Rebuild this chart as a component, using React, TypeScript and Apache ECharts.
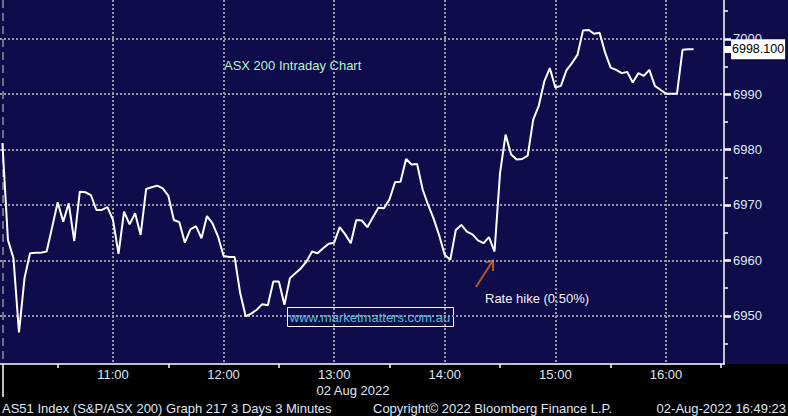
import React, { useEffect, useRef } from "react";
import * as echarts from "echarts";

// ---- data ----
const times: string[] = [
  "10:00","10:03","10:06","10:09","10:12","10:15","10:18","10:21","10:24","10:27",
  "10:30","10:33","10:36","10:39","10:42","10:45","10:48","10:51","10:54","10:57",
  "11:00","11:03","11:06","11:09","11:12","11:15","11:18","11:21","11:24","11:27",
  "11:30","11:33","11:36","11:39","11:42","11:45","11:48","11:51","11:54","11:57",
  "12:00","12:03","12:06","12:09","12:12","12:15","12:18","12:21","12:24","12:27",
  "12:30","12:33","12:36","12:39","12:42","12:45","12:48","12:51","12:54","12:57",
  "13:00","13:03","13:06","13:09","13:12","13:15","13:18","13:21","13:24","13:27",
  "13:30","13:33","13:36","13:39","13:42","13:45","13:48","13:51","13:54","13:57",
  "14:00","14:03","14:06","14:09","14:12","14:15","14:18","14:21","14:24","14:27",
  "14:30","14:33","14:36","14:39","14:42","14:45","14:48","14:51","14:54","14:57",
  "15:00","15:03","15:06","15:09","15:12","15:15","15:18","15:21","15:24","15:27",
  "15:30","15:33","15:36","15:39","15:42","15:45","15:48","15:51","15:54","15:57",
  "16:00","16:03","16:06","16:09","16:12","16:15",
];
const prices: number[] = [
  6981.2, 6963.7, 6960.4, 6947.0, 6956.8, 6961.3, 6961.4, 6961.4, 6961.6, 6966.0,
  6970.5, 6967.0, 6970.3, 6963.5, 6972.4, 6972.3, 6971.8, 6969.1, 6969.1, 6969.6,
  6967.3, 6961.2, 6968.8, 6966.5, 6968.5, 6964.6, 6972.9, 6973.2, 6973.5, 6973.0,
  6971.7, 6967.3, 6966.9, 6963.2, 6965.6, 6966.2, 6964.0, 6968.0, 6966.7, 6964.3,
  6960.8, 6960.6, 6960.6, 6954.1, 6949.9, 6950.4, 6951.1, 6952.1, 6951.9, 6956.2,
  6956.2, 6952.0, 6956.8, 6957.7, 6958.6, 6959.8, 6961.6, 6961.3, 6962.2, 6963.0,
  6963.2, 6966.0, 6964.7, 6963.1, 6967.3, 6967.2, 6966.0, 6967.8, 6969.5, 6969.4,
  6971.0, 6974.1, 6974.2, 6978.3, 6977.3, 6977.4, 6972.8, 6970.0, 6967.5, 6964.5,
  6961.0, 6960.1, 6965.5, 6966.4, 6965.2, 6964.7, 6963.6, 6963.1, 6964.2, 6961.6,
  6975.8, 6982.7, 6979.1, 6978.2, 6978.3, 6978.9, 6985.4, 6987.9, 6992.3, 6994.7,
  6991.2, 6991.5, 6994.3, 6995.6, 6997.1, 7001.5, 7001.6, 7000.9, 7001.1, 6997.5,
  6994.8, 6994.4, 6993.8, 6994.0, 6992.1, 6993.8, 6993.3, 6994.4, 6991.5, 6990.8,
  6990.1, 6990.1, 6990.1, 6998.0, 6998.1, 6998.1,
];
const hourTicks: string[] = ["11:00", "12:00", "13:00", "14:00", "15:00", "16:00"];
const halfHourTicks: string[] = ["10:30", "11:30", "12:30", "13:30", "14:30", "15:30", "16:30"];
const sessionStart = "10:00";
const priceTicks: number[] = [6950, 6960, 6970, 6980, 6990, 7000];
const priceMinorTicks: number[] = [6945, 6955, 6965, 6975, 6985, 6995, 7005];
const lastPrice = 6998.1;
const titleText = "ASX 200 Intraday Chart";
const dateText = "02 Aug 2022";
const annotationText = "Rate hike (0.50%)";
const watermarkText = "www.marketmatters.com.au";
const footerLeft = "AS51 Index (S&P/ASX 200) Graph 217 3 Days 3 Minutes";
const footerMid = "Copyright\u00A9 2022 Bloomberg Finance L.P.";
const footerRight = "02-Aug-2022 16:49:23";

const toMin = (s: string) => {
  const [h, m] = s.split(":").map(Number);
  return h * 60 + m - 600;
};
const fmtMin = (v: number) => {
  const t = Math.round(v) + 600;
  const h = Math.floor(t / 60);
  const m = t % 60;
  return `${h}:${m < 10 ? "0" : ""}${m}`;
};

const NAVY = "#0e0c4a";
const LABEL = "#dfe7f6";
const GRID = "#9797a6";
const FONT = '"Liberation Sans", Arial, sans-serif';

export default function App() {
  const ref = useRef<HTMLDivElement>(null);
  useEffect(() => {
    if (!ref.current) return;
    const chart = echarts.init(ref.current, undefined, { renderer: "svg" });
    const xMin = -1.3;
    const xMax = 391.5;
    const yMin = 6941.3;
    const yMax = 7007;
    const xBase = {
      type: "value", min: xMin, max: xMax, position: "bottom",
    };
    const yBase = {
      type: "value", min: yMin, max: yMax, position: "right",
    };
    const option: any = {
      animation: false,
      backgroundColor: "#000000",
      textStyle: { fontFamily: FONT },
      grid: {
        left: 0, right: 64, top: 0, bottom: 52,
        show: true, backgroundColor: NAVY, borderWidth: 0,
        containLabel: false, outerBoundsMode: "none",
      },
      xAxis: [
        {
          ...xBase,
          axisLine: { show: false, onZero: false },
          axisTick: { show: false, customValues: hourTicks.map(toMin) },
          axisLabel: {
            customValues: hourTicks.map(toMin),
            formatter: (v: number) => fmtMin(v),
            color: LABEL, fontSize: 13, fontFamily: FONT, margin: 4,
          },
          splitLine: { show: true, lineStyle: { color: GRID, width: 2, type: [2, 2] } },
        },
        {
          ...xBase,
          axisLine: { show: true, onZero: false, lineStyle: { color: "#ffffff", width: 1.5 } },
          axisTick: {
            show: true, customValues: halfHourTicks.map(toMin), length: 4,
            lineStyle: { color: "#ffffff", width: 1.5 },
          },
          axisLabel: { show: false },
          splitLine: { show: false },
        },
        {
          ...xBase,
          axisLine: { show: false, onZero: false },
          axisTick: {
            show: true, customValues: [toMin(sessionStart)], length: 33,
            lineStyle: { color: "#ffffff", width: 1.5 },
          },
          axisLabel: { show: false },
          splitLine: { show: true, lineStyle: { color: "#8e8e98", width: 1.5, type: [8, 5] } },
        },
      ],
      yAxis: [
        {
          ...yBase,
          axisLine: { show: true, onZero: false, lineStyle: { color: "#ffffff", width: 1.5 } },
          axisTick: {
            show: true, customValues: priceTicks, length: 7,
            lineStyle: { color: "#ffffff", width: 2.5 },
          },
          axisLabel: {
            customValues: priceTicks, formatter: (v: number) => String(v),
            color: LABEL, fontSize: 13, fontFamily: FONT, margin: 9,
          },
          splitLine: { show: true, lineStyle: { color: GRID, width: 2, type: [2, 2] } },
        },
        {
          ...yBase,
          axisLine: { show: false, onZero: false },
          axisTick: {
            show: true, customValues: priceMinorTicks, length: 4,
            lineStyle: { color: "#ffffff", width: 1.5 },
          },
          axisLabel: { show: false },
          splitLine: { show: false },
        },
        {
          ...yBase,
          axisLine: { show: false, onZero: false },
          axisTick: {
            show: true, customValues: [lastPrice], length: 8,
            lineStyle: { color: "#ffffff", width: 7 },
          },
          axisLabel: {
            customValues: [lastPrice], formatter: (v: number) => v.toFixed(3),
            color: "#000000", backgroundColor: "#ffffff", padding: [4, 1, 3, 1],
            fontSize: 12.5, fontFamily: FONT, margin: 7,
          },
          splitLine: { show: false },
        },
      ],
      series: [
        {
          type: "line",
          xAxisIndex: 0,
          yAxisIndex: 0,
          data: times.map((t, i) => [toMin(t), prices[i]]),
          symbol: "none",
          lineStyle: { color: "#ffffff", width: 2 },
          z: 5,
        },
      ],
      graphic: [
        {
          type: "rect", z: -1, silent: true,
          shape: { x: 724, y: 0, width: 64, height: 364 },
          style: { fill: NAVY },
        },
        {
          type: "text", left: 224, top: 59,
          style: { text: titleText, fill: "#b8f2c8", font: `13px ${FONT}` },
        },
        {
          type: "rect", silent: true,
          shape: { x: 287.5, y: 307.5, width: 166, height: 19 },
          style: { fill: "none", stroke: "#ffffff", lineWidth: 1 },
        },
        {
          type: "text", x: 370, y: 317,
          style: {
            text: watermarkText, fill: "#3ec4de", font: `13px ${FONT}`,
            textAlign: "center", textVerticalAlign: "middle",
          },
        },
        {
          type: "text", x: 485, y: 298,
          style: {
            text: annotationText, fill: "#f2f2f8", font: `13px ${FONT}`,
            textVerticalAlign: "middle",
          },
        },
        {
          type: "line",
          shape: { x1: 476, y1: 287, x2: 493, y2: 260.5 },
          style: { stroke: "#b4562e", lineWidth: 2 },
        },
        {
          type: "polyline",
          shape: { points: [[485.5, 262.5], [493, 260.5], [493, 271]] },
          style: { stroke: "#b4562e", lineWidth: 2, fill: "none" },
        },
        {
          type: "text", x: 353, y: 390,
          style: {
            text: dateText, fill: LABEL, font: `13px ${FONT}`,
            textAlign: "center", textVerticalAlign: "middle",
          },
        },
        {
          type: "text", x: 2, y: 408,
          style: { text: footerLeft, fill: LABEL, font: `13px ${FONT}`, textVerticalAlign: "middle" },
        },
        {
          type: "text", x: 373, y: 408,
          style: { text: footerMid, fill: LABEL, font: `13px ${FONT}`, textVerticalAlign: "middle" },
        },
        {
          type: "text", x: 786, y: 408,
          style: {
            text: footerRight, fill: LABEL, font: `13px ${FONT}`,
            textAlign: "right", textVerticalAlign: "middle",
          },
        },
      ],
    };
    chart.setOption(option);
    return () => chart.dispose();
  }, []);
  return (
    <div
      ref={ref}
      style={{ position: "fixed", left: 0, top: 0, width: 788, height: 416 }}
    />
  );
}
